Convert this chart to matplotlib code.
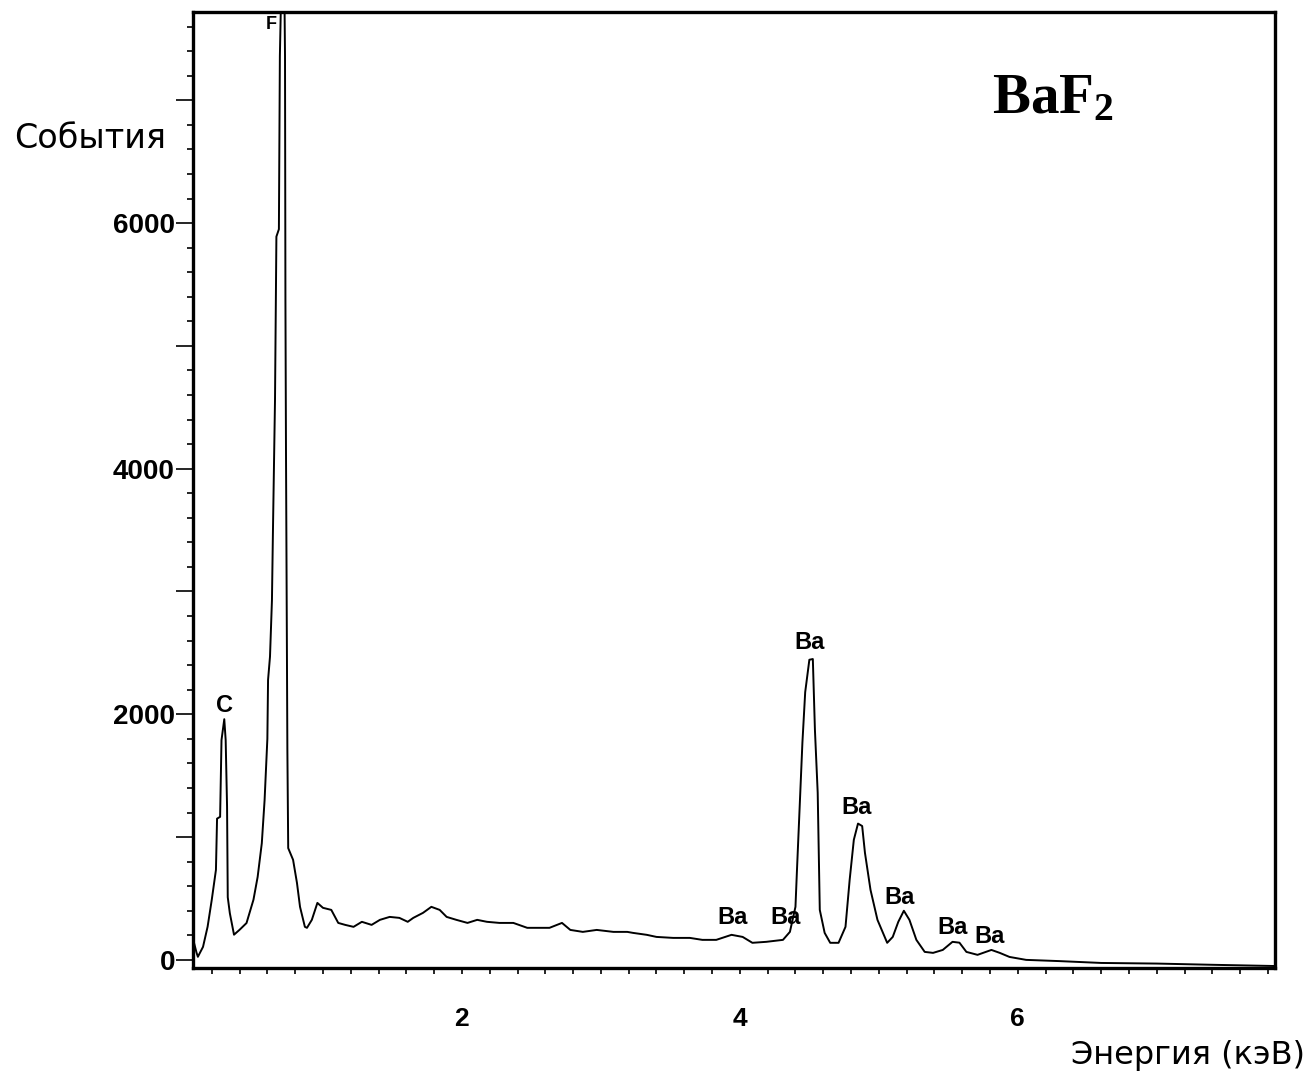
import numpy as np
import matplotlib
matplotlib.use("Agg")
import matplotlib.pyplot as plt
from matplotlib.ticker import MultipleLocator, FuncFormatter

plt.rcParams['mathtext.fontset'] = 'custom'
plt.rcParams['mathtext.rm'] = 'Liberation Serif'
plt.rcParams['mathtext.bf'] = 'Liberation Serif:bold'

# EDX spectrum of BaF2 (energy in keV, counts)
energy = [0.065, 0.072, 0.09, 0.10, 0.137, 0.17, 0.20, 0.23, 0.238, 0.26, 0.27, 0.29,
          0.30, 0.31, 0.315, 0.33, 0.36, 0.40, 0.45, 0.50, 0.53, 0.56, 0.58, 0.60,
          0.605, 0.619, 0.633, 0.64, 0.655, 0.665, 0.683, 0.69, 0.705, 0.72, 0.727,
          0.73, 0.734, 0.741, 0.744, 0.75, 0.785, 0.813, 0.835, 0.87, 0.885, 0.92,
          0.96, 1.0, 1.06, 1.11, 1.16, 1.22, 1.28, 1.35, 1.41, 1.48, 1.55, 1.61, 1.65,
          1.72, 1.78, 1.84, 1.89, 1.96, 2.04, 2.11, 2.18, 2.27, 2.37, 2.47, 2.56,
          2.63, 2.72, 2.78, 2.87, 2.97, 3.09, 3.19, 3.23, 3.33, 3.40, 3.52, 3.64,
          3.73, 3.83, 3.94, 4.02, 4.09, 4.19, 4.31, 4.36, 4.40, 4.41, 4.45, 4.47,
          4.50, 4.525, 4.54, 4.56, 4.575, 4.61, 4.65, 4.71, 4.76, 4.79, 4.82, 4.85,
          4.88, 4.90, 4.94, 4.99, 5.06, 5.10, 5.14, 5.18, 5.22, 5.27, 5.33, 5.39,
          5.46, 5.53, 5.58, 5.63, 5.71, 5.81, 5.87, 5.94, 6.06, 6.3, 6.6, 7.0,
          7.4, 7.85]
counts = [40, 140, 60, 25, 106, 270, 490, 733, 1150, 1165, 1790, 1960,
          1790, 1250, 510, 380, 205, 245, 300, 490, 675, 950, 1300, 1800,
          2280, 2470, 2930, 3480, 4560, 5890, 5950, 7360, 8200, 8200, 7360,
          5380, 4150, 2530, 1710, 910, 815, 627, 432, 269, 261, 326,
          464, 424, 407, 301, 285, 269, 310, 285, 326, 350, 342, 310, 342,
          383, 432, 407, 350, 326, 301, 326, 310, 301, 301, 261, 261,
          261, 301, 244, 228, 244, 228, 228, 220, 204, 187, 179, 179,
          163, 163, 204, 187, 139, 147, 163, 228, 432, 709, 1770, 2180,
          2444, 2450, 1874, 1361, 407, 220, 139, 139, 269, 652, 978, 1110,
          1090, 872, 570, 326, 139, 187, 310, 400, 326, 163, 65, 57,
          81, 147, 140, 65, 41, 81, 57, 24, 0, -10, -25, -30,
          -40, -50]

peak_labels = ['C', 'F', 'Ba', 'Ba', 'Ba', 'Ba', 'Ba', 'Ba', 'Ba']
peak_x = [0.295, 0.626, 4.50, 4.84, 5.15, 3.95, 4.33, 5.53, 5.80]
peak_y = [2070, 7620, 2583, 1238, 505, 342, 342, 261, 187]

fig = plt.figure(figsize=(13.13, 10.79), dpi=100)
ax = fig.add_axes([0.147, 0.103, 0.824, 0.886])

ax.plot(energy, counts, color='black', lw=1.4)
ax.set_xlim(0.065, 7.85)
ax.set_ylim(-65, 7720)

for s in ax.spines.values():
    s.set_linewidth(2.4)

ax.xaxis.set_major_locator(MultipleLocator(2))
ax.xaxis.set_minor_locator(MultipleLocator(0.2))
ax.yaxis.set_major_locator(MultipleLocator(1000))
ax.yaxis.set_minor_locator(MultipleLocator(200))
ax.yaxis.set_major_formatter(FuncFormatter(lambda v, p: '%d' % v if int(v) % 2000 == 0 else ''))
ax.tick_params(axis='y', which='major', direction='out', length=12, width=1.2, pad=1,
               labelsize=20)
ax.tick_params(axis='y', which='minor', direction='out', length=4, width=1.2)
ax.tick_params(axis='x', which='major', direction='out', length=4, width=1.2, pad=24,
               labelsize=19)
ax.tick_params(axis='x', which='minor', direction='out', length=4, width=1.2)
for lab in ax.get_xticklabels() + ax.get_yticklabels():
    lab.set_fontweight('bold')
    lab.set_fontfamily('Liberation Sans')

for t, x, y in zip(peak_labels, peak_x, peak_y):
    if t == 'F':
        ax.text(x, y, t, fontsize=13, fontweight='bold', family='Liberation Sans',
                ha='center', va='center')
    else:
        ax.text(x, y, t, fontsize=17, fontweight='bold', family='Liberation Sans',
                ha='center', va='center')

ax.text(0.795, 0.91, r'$\mathbf{BaF_2}$', transform=ax.transAxes, fontsize=41,
        ha='center', va='center')

fig.text(0.069, 0.872, 'События', fontsize=24, family='DejaVu Sans', ha='center', va='center')
fig.text(0.905, 0.022, 'Энергия (кэВ)', fontsize=23, family='DejaVu Sans', ha='center',
         va='center')

fig.savefig('out.png', dpi=100)
